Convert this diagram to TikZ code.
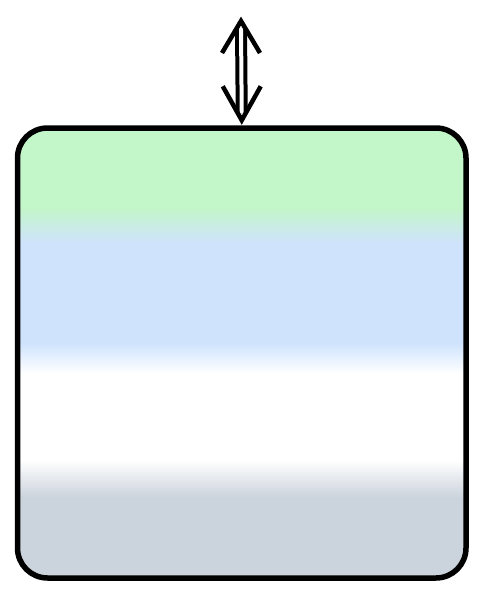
\documentclass[tikz,border=0pt]{standalone}
\usetikzlibrary{positioning}
\definecolor{cgreen}{RGB}{195,246,200}
\definecolor{cblue}{RGB}{207,227,253}
\definecolor{cgray}{RGB}{203,211,220}
\tikzset{
  panel/.style={draw=black, line width=5.5pt, rounded corners=30pt, inner sep=0pt,
    minimum width=448.5pt, minimum height=450pt},
  shaft/.style={draw=black, line width=4pt, double=white, double distance=4pt},
  arm/.style={draw=black, line width=4.5pt, line join=miter, miter limit=10}
}
\begin{document}
\begin{tikzpicture}[x=1pt,y=1pt]
\useasboundingbox (0,0) rectangle (482,-600);
\begin{scope}
  \clip[rounded corners=30pt] (17.5,-128) rectangle (466,-578);
  \fill[cgreen] (0,-100) rectangle (482,-207.5);
  \shade[top color=cgreen, bottom color=cblue] (0,-207) rectangle (482,-243.5);
  \fill[cblue] (0,-243) rectangle (482,-343.5);
  \shade[top color=cblue, bottom color=white] (0,-343) rectangle (482,-373.5);
  \fill[white] (0,-373) rectangle (482,-460.5);
  \shade[top color=white, bottom color=cgray] (0,-460) rectangle (482,-497.5);
  \fill[cgray] (0,-497) rectangle (482,-600);
\end{scope}
\node[panel] (box) at (241.75,-353) {};
\coordinate (top) at (241,-21);
\draw[shaft] ([yshift=-7pt]top) -- ([yshift=12pt]box.north);
\draw[arm] (top) ++(-19,-32) -- ++(19,32) -- ++(19,-32);
\draw[arm] ([yshift=5pt]box.north) ++(-19,34) -- ++(19,-34) -- ++(19,34);
\end{tikzpicture}
\end{document}
